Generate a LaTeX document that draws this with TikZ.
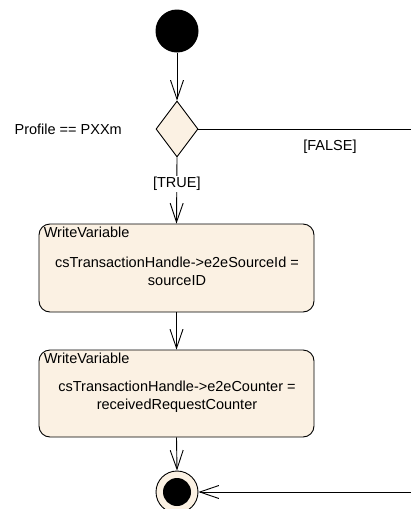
\documentclass[tikz,border=0pt]{standalone}
\usepackage{fontspec}
\setmainfont{Liberation Sans}
\usepackage{tikz}
\usetikzlibrary{arrows.meta,calc,positioning,shapes.geometric}
\definecolor{actfill}{RGB}{251,241,227}
\tikzset{flow/.style={draw, line width=0.9pt,
    -{Straight Barb[length=19pt,width=13pt,line width=0.9pt]}},
  line/.style={draw, line width=0.9pt},
  initial state/.style={circle, fill=black, minimum size=43pt, inner sep=0pt},
  final outer/.style={circle, draw, line width=0.9pt, fill=actfill,
    minimum size=42pt, inner sep=0pt},
  final inner/.style={circle, fill=black, minimum size=28pt, inner sep=0pt},
  decision/.style={diamond, draw, line width=0.9pt, fill=actfill,
    minimum width=42pt, minimum height=56pt, inner sep=0pt},
  action/.style={rectangle, rounded corners=11pt, draw, line width=0.9pt,
    fill=actfill, minimum width=275pt},
  act title/.style={anchor=north west, inner sep=0pt},
  act body/.style={align=center, inner sep=0pt},
  guard/.style={fill=white, inner sep=1pt}
}

\begin{document}
\begin{tikzpicture}[x=1pt, y=-1pt,
    every node/.append style={font=\fontsize{14.5}{18}\selectfont}]
    \useasboundingbox (0,0) rectangle (411,509);
    % nodes
    \node[initial state] (start) at (177,31) {};
    \node[decision] (dec) at (177,129) {};
    \node[anchor=east, inner sep=0pt] (cond) at (122,129) {Profile == PXXm};
    \node[action, minimum height=88pt] (wv1) at (176.5,268) {};
    \node[act title] (wv1title) at ($(wv1.north west)+(5,3)$) {WriteVariable};
    \node[act body] (wv1body) at (177,271)
        {csTransactionHandle->e2eSourceId =\\sourceID};
    \node[action, minimum height=87pt] (wv2) at (176.5,393.5) {};
    \node[act title] (wv2title) at ($(wv2.north west)+(5,3)$) {WriteVariable};
    \node[act body] (wv2body) at (177,396.5)
        {csTransactionHandle->e2eCounter =\\receivedRequestCounter};
    \node[final outer] (end) at (177,492) {};
    \node[final inner] (endin) at (end) {};
    \coordinate (falseout) at (411,129);
    \coordinate (falsein) at (411,492);
    % connectors
    \draw[flow] (start) -- (dec.north);
    \draw[flow] (dec.south) -- node[guard, pos=0.4] (truelbl) {[TRUE]} (wv1.north);
    \draw[line] (dec.east) -- (falseout);
    \node (falselbl) at (330,147) {[FALSE]};
    \draw[flow] (wv1.south) -- (wv2.north);
    \draw[flow] (wv2.south) -- (end.north);
    \draw[flow] (falsein) -- (end.east);
\end{tikzpicture}
\end{document}
